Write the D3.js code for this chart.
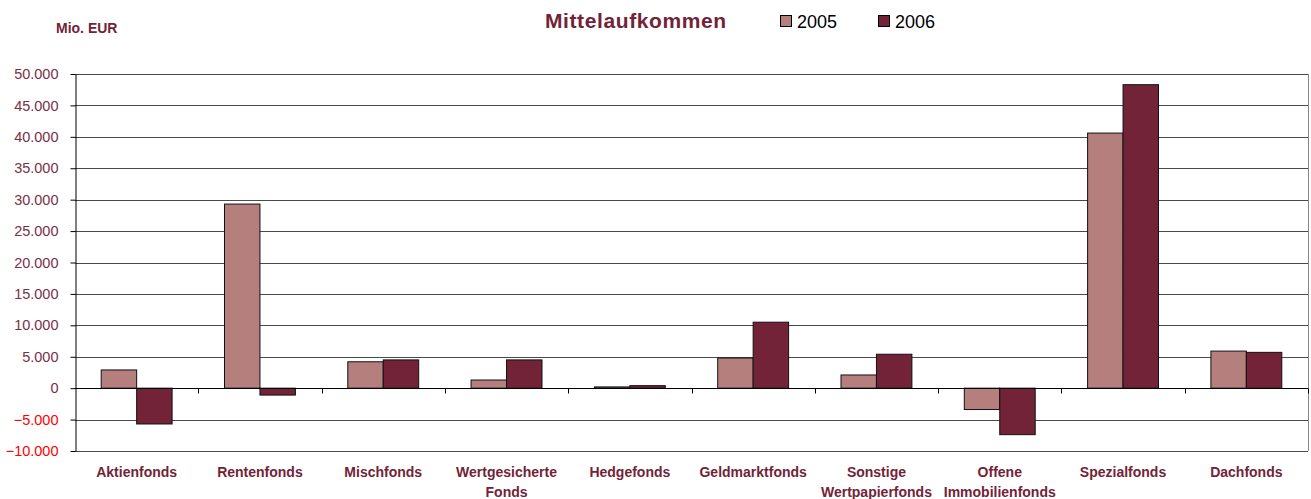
<!DOCTYPE html>
<html>
<head>
<meta charset="utf-8">
<script src="https://cdn.jsdelivr.net/npm/d3@7"></script>
<style>
  body { margin: 0; background: #fff; }
  svg { font-family: "Liberation Sans", Arial, sans-serif; }
</style>
</head>
<body>
<div id="chart"></div>
<script>
const categories = [
    'Aktienfonds', 'Rentenfonds', 'Mischfonds', 'Wertgesicherte Fonds', 'Hedgefonds',
    'Geldmarktfonds', 'Sonstige Wertpapierfonds', 'Offene Immobilienfonds', 'Spezialfonds', 'Dachfonds'
];
// label lines as they wrap in the original
const categoryLines = [
    ['Aktienfonds'], ['Rentenfonds'], ['Mischfonds'], ['Wertgesicherte', 'Fonds'], ['Hedgefonds'],
    ['Geldmarktfonds'], ['Sonstige', 'Wertpapierfonds'], ['Offene', 'Immobilienfonds'], ['Spezialfonds'], ['Dachfonds']
];
const seriesNames = ['2005', '2006'];
const values2005 = [2900, 29300, 4200, 1300, 200, 4800, 2100, -3400, 40600, 5900];
const values2006 = [-5700, -1100, 4500, 4500, 400, 10500, 5400, -7400, 48300, 5700];
const yTicks = [-10000, -5000, 0, 5000, 10000, 15000, 20000, 25000, 30000, 35000, 40000, 45000, 50000];

const colors = { '2005': '#b47f7d', '2006': '#722337' };
const labelColor = '#722337';

const width = 1311;
const height = 499;
const margin = { top: 74, right: 3, bottom: 48, left: 75 };

const locale = d3.formatLocale({ decimal: ',', thousands: '.', grouping: [3], currency: ['', ' €'] });
const fmt = locale.format(',.0f');

const svg = d3.select('#chart')
    .append('svg')
    .attr('width', width)
    .attr('height', height);

const x0 = d3.scaleBand()
    .domain(categories)
    .range([margin.left, width - margin.right])
    .paddingInner(0.425)
    .paddingOuter(0.2125);

const x1 = d3.scaleBand()
    .domain(seriesNames)
    .range([0, x0.bandwidth()]);

const y = d3.scaleLinear()
    .domain([-10000, 50000])
    .range([height - margin.bottom, margin.top]);

const left = margin.left;
const right = width - margin.right;

// gridlines
svg.append('g')
    .selectAll('line')
    .data(yTicks.filter(d => d !== 0))
    .join('line')
    .attr('x1', left)
    .attr('x2', right)
    .attr('y1', d => Math.round(y(d)) + 0.5)
    .attr('y2', d => Math.round(y(d)) + 0.5)
    .attr('stroke', '#4a4a4a')
    .attr('stroke-width', 1);

// right frame
svg.append('line')
    .attr('x1', right + 0.5).attr('x2', right + 0.5)
    .attr('y1', y(50000)).attr('y2', y(-10000))
    .attr('stroke', '#888');

// bars
const data = categories.map((c, i) => ({ cat: c, vals: [
    { key: '2005', value: values2005[i] },
    { key: '2006', value: values2006[i] }
] }));

svg.append('g')
    .selectAll('g')
    .data(data)
    .join('g')
    .attr('transform', d => `translate(${x0(d.cat)},0)`)
    .selectAll('rect')
    .data(d => d.vals)
    .join('rect')
    .attr('x', d => x1(d.key))
    .attr('y', d => y(Math.max(0, d.value)))
    .attr('width', x1.bandwidth())
    .attr('height', d => Math.abs(y(d.value) - y(0)))
    .attr('fill', d => colors[d.key])
    .attr('stroke', '#111')
    .attr('stroke-width', 1);

// zero line with category ticks
const zeroY = Math.round(y(0)) + 0.5;
svg.append('line')
    .attr('x1', left).attr('x2', right)
    .attr('y1', zeroY).attr('y2', zeroY)
    .attr('stroke', '#000');

svg.append('g')
    .selectAll('line')
    .data(d3.range(1, categories.length + 1))
    .join('line')
    .attr('x1', i => Math.round(left + i * x0.step()) + 0.5)
    .attr('x2', i => Math.round(left + i * x0.step()) + 0.5)
    .attr('y1', zeroY)
    .attr('y2', zeroY + 5)
    .attr('stroke', '#000');

// y axis
const yAxis = svg.append('g')
    .attr('transform', `translate(${left + 0.5},0)`)
    .call(d3.axisLeft(y).tickValues(yTicks).tickSize(5).tickSizeOuter(0).tickPadding(12).tickFormat(fmt));

yAxis.select('.domain').attr('stroke', '#000');
yAxis.selectAll('.tick line').attr('stroke', '#000');
yAxis.selectAll('.tick text')
    .attr('fill', d => d < 0 ? '#ff0000' : '#7a3045')
    .style('font-size', '14.5px')
    .style('font-family', '"Liberation Sans", Arial, sans-serif');

// category labels
const catLabels = svg.append('g')
    .selectAll('text')
    .data(categories)
    .join('text')
    .attr('x', d => x0(d) + x0.bandwidth() / 2)
    .attr('y', 477)
    .attr('text-anchor', 'middle')
    .attr('fill', labelColor)
    .style('font-size', '14px')
    .style('font-weight', 'bold');

catLabels.selectAll('tspan')
    .data((d, i) => categoryLines[i])
    .join('tspan')
    .attr('x', function () { return this.parentNode.getAttribute('x'); })
    .attr('dy', (d, i) => i === 0 ? 0 : 20)
    .text(d => d);

// unit label
svg.append('text')
    .attr('x', 56)
    .attr('y', 33)
    .attr('fill', labelColor)
    .style('font-size', '14px')
    .style('font-weight', 'bold')
    .text('Mio. EUR');

// title
svg.append('text')
    .attr('x', 545)
    .attr('y', 28)
    .attr('fill', labelColor)
    .style('font-size', '21px')
    .style('font-weight', 'bold')
    .style('letter-spacing', '0.6px')
    .text('Mittelaufkommen');

// legend
const legendX = [780, 878];
const legend = svg.append('g')
    .selectAll('g')
    .data(seriesNames)
    .join('g')
    .attr('transform', (d, i) => `translate(${legendX[i]},15)`);

legend.append('rect')
    .attr('x', 0.5).attr('y', 0.5)
    .attr('width', 11).attr('height', 11)
    .attr('fill', d => colors[d])
    .attr('stroke', '#000');

legend.append('text')
    .attr('x', 17)
    .attr('y', 13)
    .attr('fill', '#000')
    .style('font-size', '18px')
    .text(d => d);
</script>
</body>
</html>
